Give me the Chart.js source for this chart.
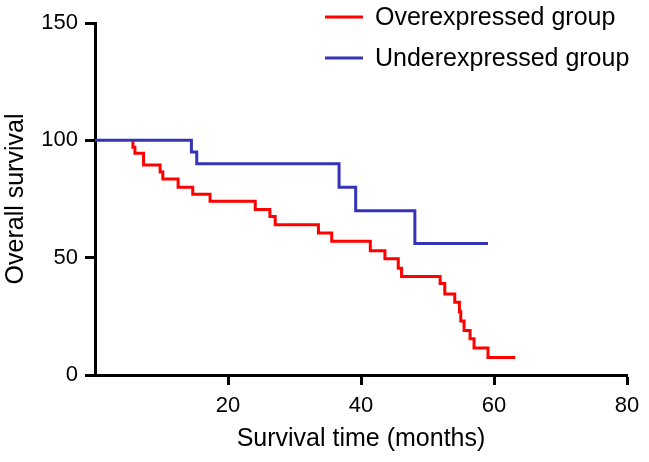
<!DOCTYPE html>
<html>
<head>
<meta charset="utf-8">
<script src="https://cdn.jsdelivr.net/npm/chart.js@4/dist/chart.umd.min.js"></script>
<style>
  html, body { margin: 0; padding: 0; background: #fff; }
  #wrap { width: 649px; height: 462px; }
</style>
</head>
<body>
<div id="wrap"><canvas id="km"></canvas></div>
<script>
// survival curves (months, % surviving)
const overTimes  = [5.5, 5.7, 6.0, 7.3, 9.8, 10.2, 12.5, 14.7, 17.3, 24.1, 26.3, 27.1, 33.6, 35.6, 41.4, 43.6, 45.6, 46.1, 51.9, 52.6, 54.1, 54.8, 55.0, 55.5, 56.4, 57.0, 59.1, 63.2];
const overSurv   = [99.5, 97, 94.5, 89.5, 86.5, 83.5, 80, 77, 74, 70.5, 67.5, 64, 60.5, 57, 53, 49.5, 45.5, 42, 39, 34.5, 31, 27, 23, 19, 15.5, 11.5, 7.5, 7.5];
const underTimes = [0, 14.5, 15.3, 36.7, 39.2, 48.1, 59.1];
const underSurv  = [100, 95, 90, 80, 70, 56, 56];

const groupLabels = ["Overexpressed group", "Underexpressed group"];
const xTicks = [20, 40, 60, 80];
const yTicks = [0, 50, 100, 150];

const FONT = "Liberation Sans, Arial, sans-serif";

function toPoints(ts, vs){ return ts.map((t, i) => ({ x: t, y: vs[i] })); }

// legend drawn by hand so it can sit over the top of the plot
const cornerLegend = {
  id: "cornerLegend",
  afterDraw(chart){
    const c = chart.ctx;
    c.save();
    c.font = "25px " + FONT;
    c.textBaseline = "middle";
    c.fillStyle = "#000";
    const rows = [17, 58];
    chart.data.datasets.forEach((ds, i) => {
      const y = rows[i];
      c.strokeStyle = ds.borderColor;
      c.lineWidth = 3;
      c.beginPath();
      c.moveTo(325, y);
      c.lineTo(363, y);
      c.stroke();
      c.fillText(ds.label, 375, y + 1);
    });
    c.restore();
  }
};

const axisCommon = {
  border: { display: true, color: "#000", width: 3 },
  grid: { drawOnChartArea: false, drawTicks: true, tickLength: 10, tickColor: "#000", tickWidth: 3 },
};

new Chart(document.getElementById("km"), {
  type: "line",
  data: {
    datasets: [
      { label: groupLabels[0], data: toPoints(overTimes, overSurv), borderColor: "rgb(255,0,0)", order: 2 },
      { label: groupLabels[1], data: toPoints(underTimes, underSurv), borderColor: "rgb(52,52,182)", order: 1 }
    ]
  },
  options: {
    responsive: true,
    maintainAspectRatio: false,
    animation: false,
    datasets: { line: { stepped: true, borderWidth: 3, pointRadius: 0, fill: false, tension: 0 } },
    layout: { padding: { top: 23, right: 22, left: 0, bottom: 0 } },
    plugins: { legend: { display: false }, tooltip: { enabled: false } },
    scales: {
      x: {
        ...axisCommon,
        type: "linear",
        min: 0, max: 80,
        afterBuildTicks: s => { s.ticks = xTicks.map(v => ({ value: v })); },
        afterFit: s => { s.height = 87; },
        ticks: { color: "#000", font: { family: FONT, size: 22 }, padding: 8, maxRotation: 0 },
        title: { display: true, text: "Survival time (months)", color: "#000",
                 font: { family: FONT, size: 25 }, padding: { top: 4, bottom: 8 } }
      },
      y: {
        ...axisCommon,
        min: 0, max: 150,
        afterBuildTicks: s => { s.ticks = yTicks.map(v => ({ value: v })); },
        afterFit: s => { s.width = 95; },
        ticks: { color: "#000", font: { family: FONT, size: 22 }, padding: 7 },
        title: { display: true, text: "Overall survival", color: "#000",
                 font: { family: FONT, size: 25 }, padding: { top: 1, bottom: 0 } }
      }
    }
  },
  plugins: [cornerLegend]
});
</script>
</body>
</html>
